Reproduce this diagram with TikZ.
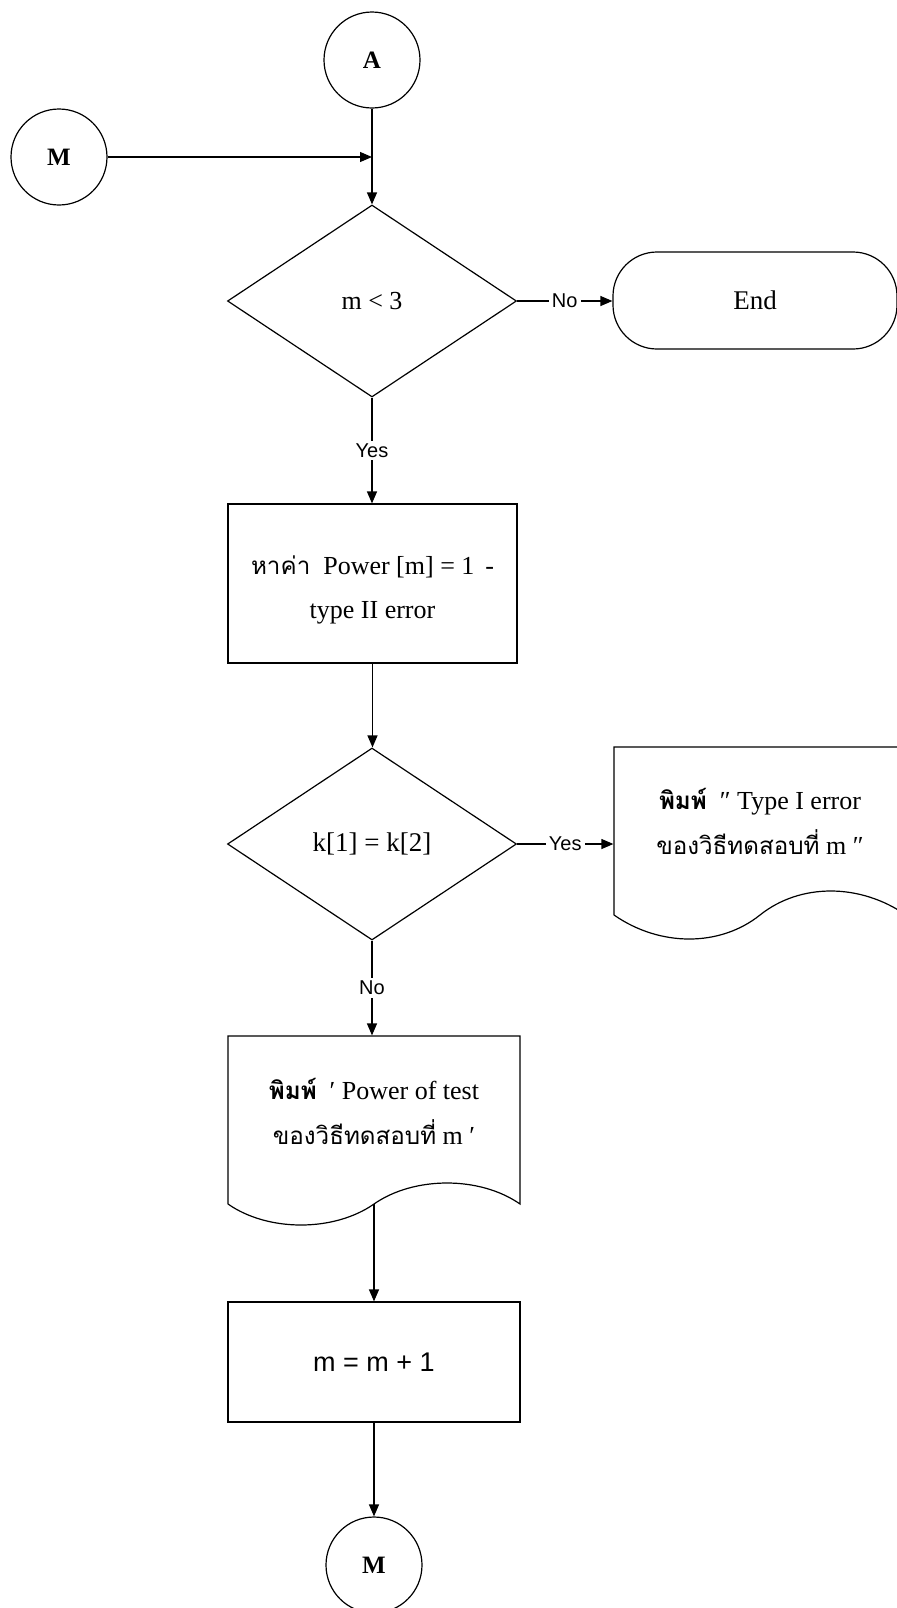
\documentclass[tikz,border=0pt]{standalone}
\usepackage{fontspec}
\setmainfont{Liberation Serif}
\newfontfamily\thaifont[Script=Thai,Scale=0.93]{Loma}
\newfontfamily\labsans{Liberation Sans}
\usetikzlibrary{shapes.geometric,arrows.meta,calc}
\begin{document}
\begin{tikzpicture}[x=0.5pt,y=-0.5pt,
  line width=0.6pt,
  every node/.style={inner sep=0pt},
  conn/.style={draw,-{Triangle[length=6pt,width=5pt]}},
  circ/.style={draw,circle,minimum size=48pt,font=\fontsize{12.5}{14}\selectfont\bfseries},
  decision/.style={draw,diamond,minimum width=144.5pt,minimum height=96pt,font=\fontsize{13}{15}\selectfont},
  procbox/.style={draw,rectangle,align=center},
  docbox/.style={rectangle,minimum width=146pt,align=center,font=\fontsize{13}{22.5}\selectfont},
  lab/.style={fill=white,inner sep=1.5pt,font=\labsans\fontsize{10}{12}\selectfont}
]
\useasboundingbox (0,0) rectangle (896,1608);

% nodes
\node[circ] (A) at (372,60) {A};
\node[circ] (M1) at (59,157) {M};
\coordinate (J) at (372,157);
\node[decision] (D1) at (372,301) {m < 3};
\node[draw,rounded corners=22pt,minimum width=142pt,minimum height=48.5pt,font=\fontsize{13.5}{15}\selectfont] (End) at (755,300.5) {End};
\node[procbox,minimum width=144.5pt,minimum height=79.5pt,font=\fontsize{13}{22}\selectfont] (P1) at (372.5,583.5)
  {\rule{0pt}{16pt}{\thaifont หาค่า}\ \ Power [m] = 1 \,-\\type II error};
\node[decision,font=\fontsize{13.5}{15}\selectfont] (D2) at (372,844) {k[1] = k[2]};

\node[docbox,minimum height=74.5pt] (Doc2) at (760,821.5)
  {{\thaifont\bfseries พิมพ์}\ \ ″ Type I error\\{\thaifont ของวิธีทดสอบที่} m ″};
\draw (614,915) -- (614,747) -- (906,747) -- (906,915)
  .. controls (860,883) and (800,883) .. (760,915)
  .. controls (720,947) and (660,947) .. (614,915);

\node[docbox,minimum height=75pt] (Doc1) at (374,1111)
  {{\thaifont\bfseries พิมพ์}\ \ ′ Power of test\\{\thaifont ของวิธีทดสอบที่} m ′};
\draw (228,1204) -- (228,1036) -- (520,1036) -- (520,1204)
  .. controls (480,1176) and (414,1176) .. (374,1204)
  .. controls (334,1232) and (268,1232) .. (228,1204);
\coordinate (Doc1b) at (374,1204);

\node[procbox,minimum width=146pt,minimum height=60pt,font=\labsans\fontsize{13.5}{16}\selectfont] (P3) at (374,1362) {m = m + 1};
\node[circ] (M2) at (374,1565) {M};

% connectors
\draw[conn] (M1) -- (J);
\draw[conn] (A) -- (D1);
\draw[conn] (D1.east) -- node[lab] {No} (D1.east -| End.west);
\draw[conn] (D1.south) -- node[lab] {Yes} (D1.south |- P1.north);
\draw[conn] (P1.south) -- (P1.south |- D2.north);
\draw[conn] (D2.east) -- node[lab] {Yes} (D2.east -| Doc2.west);
\draw[conn] (D2.south) -- node[lab] {No} (D2.south |- Doc1.north);
\draw[conn] (Doc1b) -- (Doc1b |- P3.north);
\draw[conn] (P3.south) -- (M2.north);
\end{tikzpicture}
\end{document}
